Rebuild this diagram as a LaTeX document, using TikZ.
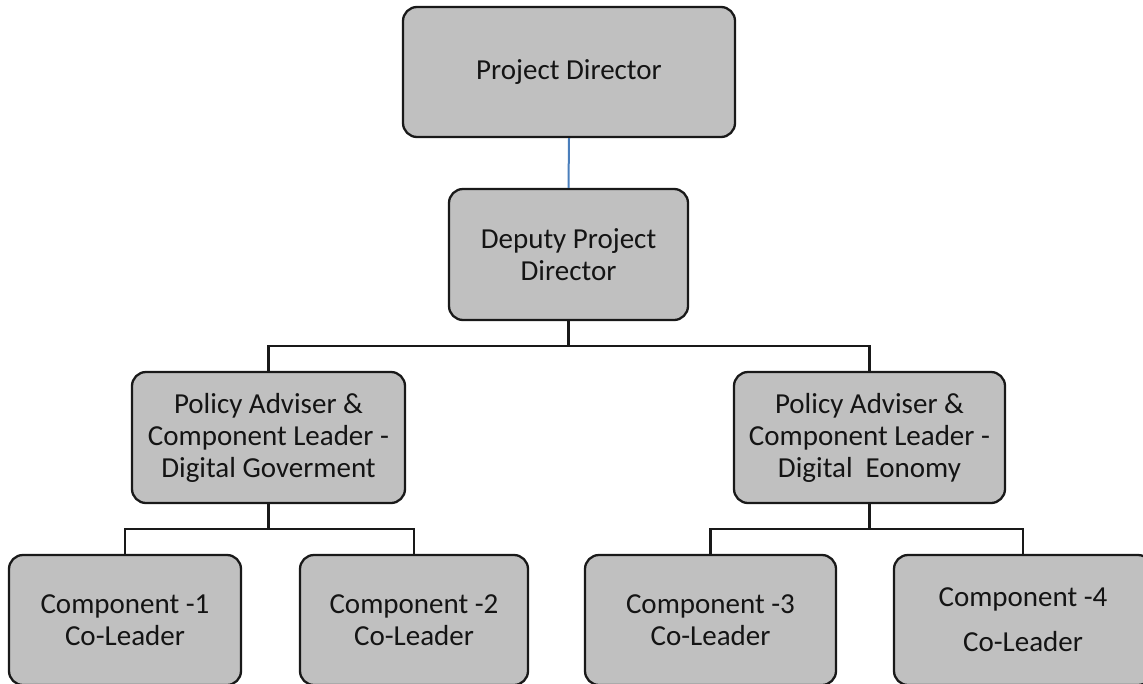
\documentclass[tikz,border=0pt]{standalone}
\usepackage{fontspec}
\setmainfont{Carlito}
\definecolor{boxgray}{HTML}{C0C0C0}
\definecolor{lineblue}{HTML}{4A7EBB}
\begin{document}
\begin{tikzpicture}[x=1pt,y=-1pt,
  box/.style={draw=black!90, line width=2.3pt, rounded corners=14pt, fill=boxgray,
    align=center, inner sep=0pt, text=black!92,
    font=\fontsize{29}{32}\selectfont},
  conn/.style={draw=black!90, line width=2.3pt},
  blueconn/.style={draw=lineblue, line width=2pt}]
\useasboundingbox (0,0) rectangle (1143,683);
\clip (0,0) rectangle (1143,683);

\node[box, minimum width=332pt, minimum height=130pt] (pd) at (569,72) {Project Director};
\node[box, minimum width=239pt, minimum height=131pt] (dep) at (568.5,254.5) {Deputy Project\\Director};
\node[box, minimum width=273pt, minimum height=131pt] (pl) at (268.5,437.5) {Policy Adviser \&\\Component Leader -\\Digital Goverment};
\node[box, minimum width=271pt, minimum height=131pt] (pr) at (869.5,437.5) {Policy Adviser \&\\Component Leader -\\Digital~ Eonomy};
\node[box, minimum width=232pt, minimum height=130pt] (c1) at (125,620) {Component -1\\Co-Leader};
\node[box, minimum width=228pt, minimum height=130pt] (c2) at (414,620) {Component -2\\Co-Leader};
\node[box, minimum width=251pt, minimum height=130pt] (c3) at (710.5,620) {Component -3\\Co-Leader};
\node[box, minimum width=258pt, minimum height=130pt, font=\fontsize{29}{45}\selectfont] (c4) at (1023,620) {Component -4\\Co-Leader};

\coordinate (bar1) at (0,346);
\coordinate (bar2) at (0,529);

\draw[blueconn] (pd.south) -- (dep.north);
\draw[conn] (dep.south) -- (dep.south |- bar1);
\draw[conn] (pl.north) |- (pr.north |- bar1) -- (pr.north);
\draw[conn] (pl.south) -- (pl.south |- bar2);
\draw[conn] (c1.north) |- (c2.north |- bar2) -- (c2.north);
\draw[conn] (pr.south) -- (pr.south |- bar2);
\draw[conn] (c3.north) |- (c4.north |- bar2) -- (c4.north);
\end{tikzpicture}
\end{document}
